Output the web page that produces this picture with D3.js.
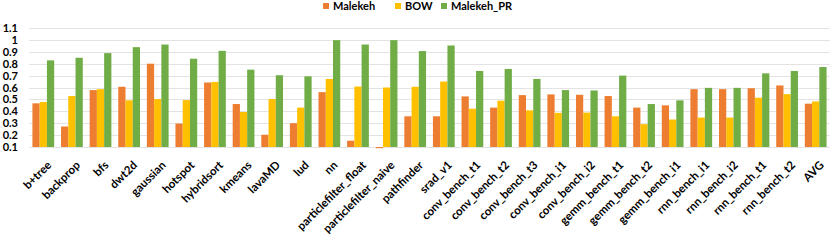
<!DOCTYPE html>
<html>
<head>
<meta charset="utf-8">
<script src="https://cdn.jsdelivr.net/npm/d3@7"></script>
<style>
  body { margin: 0; background: #fff; }
  text { font-family: Lato, "Liberation Sans", sans-serif; font-weight: bold; fill: #000; }
</style>
</head>
<body>
<svg id="chart" width="831" height="240"></svg>
<script>

// categories along the x axis
var benchmarks = ["b+tree", "backprop", "bfs", "dwt2d", "gaussian", "hotspot", "hybridsort",
    "kmeans", "lavaMD", "lud", "nn", "particlefilter_float", "particlefilter_naive",
    "pathfinder", "srad_v1", "conv_bench_t1", "conv_bench_t2", "conv_bench_t3",
    "conv_bench_i1", "conv_bench_i2", "gemm_bench_t1", "gemm_bench_t2", "gemm_bench_i1",
    "rnn_bench_i1", "rnn_bench_i2", "rnn_bench_t1", "rnn_bench_t2", "AVG"]

var seriesNames = ["Malekeh", "BOW", "Malekeh_PR"]

var malekeh = [0.467, 0.272, 0.578, 0.606, 0.80, 0.297, 0.642, 0.461, 0.203, 0.30, 0.561,
    0.153, 0.09, 0.358, 0.358, 0.525, 0.431, 0.536, 0.542, 0.539, 0.528, 0.431, 0.45,
    0.586, 0.586, 0.594, 0.617, 0.464]

var bow = [0.478, 0.528, 0.586, 0.492, 0.503, 0.494, 0.647, 0.394, 0.503, 0.431, 0.672,
    0.608, 0.60, 0.606, 0.65, 0.422, 0.489, 0.408, 0.387, 0.389, 0.358, 0.292, 0.331,
    0.347, 0.347, 0.514, 0.544, 0.483]

var malekehPR = [0.828, 0.85, 0.889, 0.939, 0.961, 0.842, 0.908, 0.75, 0.703, 0.694, 0.998,
    0.961, 0.998, 0.906, 0.953, 0.739, 0.756, 0.672, 0.578, 0.575, 0.70, 0.461, 0.492,
    0.597, 0.597, 0.719, 0.739, 0.772]

var yTicks = [0.1, 0.2, 0.3, 0.4, 0.5, 0.6, 0.7, 0.8, 0.9, 1, 1.1]

var colors = ["#ED7D31", "#FFC000", "#70AD47"]

var margin = {left: 29, right: 1, top: 28, bottom: 93}
var width = 831, height = 240

var svg = d3.select("#chart")

var x = d3.scaleBand()
    .domain(benchmarks)
    .range([margin.left, width - margin.right])
    .paddingInner(0.24)
    .paddingOuter(0.12)

var xs = d3.scaleBand()
    .domain(seriesNames)
    .range([0, x.bandwidth()])

var y = d3.scaleLinear()
    .domain([0.1, 1.1])
    .range([height - margin.bottom, margin.top])

// gridlines
svg.append("g")
    .selectAll("line")
    .data(yTicks)
    .enter()
    .append("line")
    .attr("x1", margin.left)
    .attr("x2", width - margin.right)
    .attr("y1", function(d) { return Math.round(y(d)) + 0.5 })
    .attr("y2", function(d) { return Math.round(y(d)) + 0.5 })
    .attr("stroke", "#E3E3E3")
    .attr("stroke-width", 1.2)

// y axis labels
var yAxis = svg.append("g")
    .attr("transform", "translate(" + (margin.left - 11) + ",0)")
    .call(d3.axisLeft(y).tickValues(yTicks).tickSize(0).tickPadding(0)
        .tickFormat(function(d) { return d3.format("")(+d.toFixed(1)) }))
yAxis.select(".domain").remove()
yAxis.selectAll("text").style("font-size", "11px").attr("fill", "#000")

// bars
var table = benchmarks.map(function(b, i) {
    return {name: b, values: [malekeh[i], bow[i], malekehPR[i]]}
})

var groups = svg.append("g")
    .selectAll("g")
    .data(table)
    .enter()
    .append("g")
    .attr("transform", function(d) { return "translate(" + x(d.name) + ",0)" })

groups.selectAll("rect")
    .data(function(d) {
        return d.values.map(function(v, j) { return {series: seriesNames[j], value: v, idx: j} })
    })
    .enter()
    .append("rect")
    .attr("x", function(d) { return xs(d.series) })
    .attr("width", xs.bandwidth())
    .attr("y", function(d) { return Math.min(y(d.value), y(0.1)) })
    .attr("height", function(d) { return Math.abs(y(0.1) - y(d.value)) })
    .attr("fill", function(d) { return colors[d.idx] })

// x axis labels
var xAxis = svg.append("g")
    .attr("transform", "translate(0," + y(0.1) + ")")
    .call(d3.axisBottom(x).tickSize(0).tickPadding(0))
xAxis.select(".domain").remove()
xAxis.selectAll("text")
    .style("font-size", "11.5px")
    .attr("fill", "#000")
    .attr("text-anchor", "end")
    .attr("dy", "0.35em")
    .attr("transform", "translate(6,16) rotate(-45)")

// legend
var legendX = [323, 395, 441]
var legend = svg.append("g")
    .selectAll("g")
    .data(seriesNames)
    .enter()
    .append("g")
    .attr("transform", function(d, i) { return "translate(" + legendX[i] + ",3)" })

legend.append("rect")
    .attr("width", 6)
    .attr("height", 6)
    .attr("fill", function(d, i) { return colors[i] })

legend.append("text")
    .attr("x", 10)
    .attr("y", 7)
    .style("font-size", "11px")
    .text(function(d) { return d })

</script>
</body>
</html>
